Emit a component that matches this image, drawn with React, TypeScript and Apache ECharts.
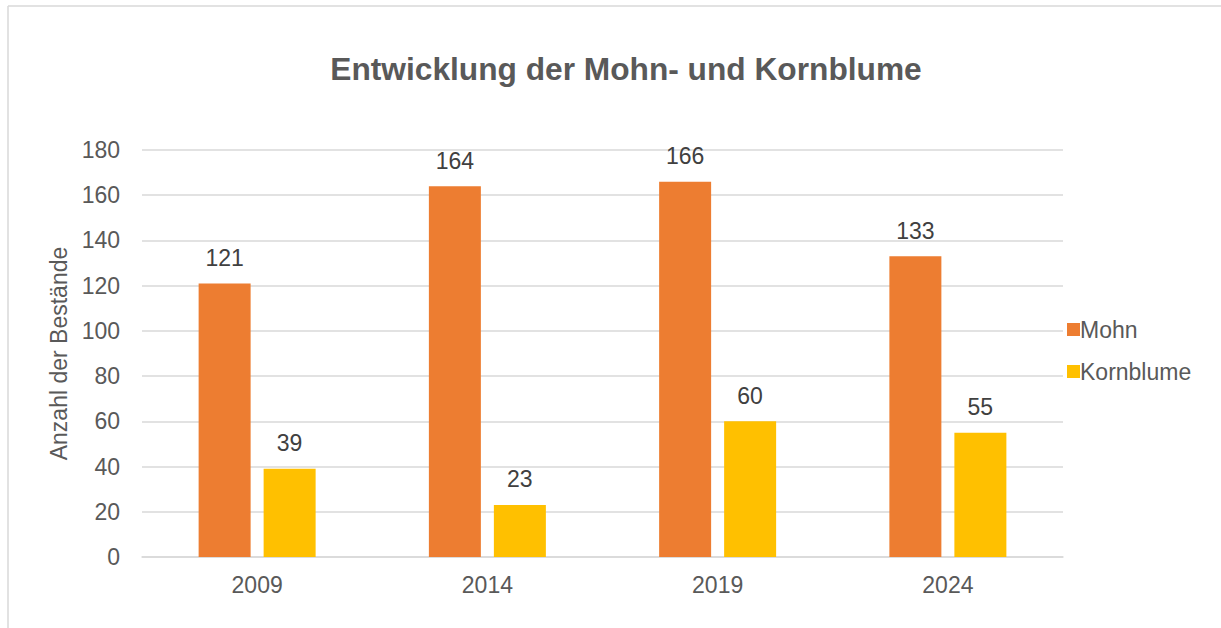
import React, { useEffect, useRef } from "react";
import * as echarts from "echarts";

const categories = ["2009", "2014", "2019", "2024"];
const mohn = [121, 164, 166, 133];
const kornblume = [39, 23, 60, 55];
const seriesNames = ["Mohn", "Kornblume"];

export default function App() {
  const ref = useRef<HTMLDivElement>(null);
  useEffect(() => {
    const chart = echarts.init(ref.current!, null, { renderer: "svg" });
    const font = "'Liberation Sans', Arial, sans-serif";
    const txt = "#595959";
    chart.setOption({
      animation: false,
      backgroundColor: "#ffffff",
      title: {
        text: "Entwicklung der Mohn- und Kornblume",
        left: 621,
        textAlign: "center",
        top: 48,
        textStyle: { fontFamily: font, fontSize: 31.7, fontWeight: "bold", color: txt },
      },
      graphic: [
        { type: "line", shape: { x1: 8, y1: 6, x2: 1221, y2: 6 }, style: { stroke: "#d9d9d9", lineWidth: 1.5 } },
        { type: "line", shape: { x1: 8, y1: 6, x2: 8, y2: 628 }, style: { stroke: "#d9d9d9", lineWidth: 1.5 } },
      ],
      legend: {
        orient: "vertical",
        left: 1062,
        top: 313,
        itemWidth: 13,
        itemHeight: 13,
        itemGap: 19,
        icon: "rect",
        data: seriesNames,
        textStyle: { fontFamily: font, fontSize: 23, color: txt, padding: [0, 0, 0, -5] },
      },
      grid: { left: 142, right: 158, top: 150, bottom: 71 },
      xAxis: {
        type: "category",
        data: categories,
        axisLine: { lineStyle: { color: "#d9d9d9", width: 1.5 } },
        axisTick: { show: false },
        axisLabel: { fontFamily: font, fontSize: 23, color: txt, margin: 16 },
      },
      yAxis: {
        type: "value",
        min: 0,
        max: 180,
        interval: 20,
        name: "Anzahl der Bestände",
        nameLocation: "middle",
        nameGap: 67,
        nameTextStyle: { fontFamily: font, fontSize: 23, color: txt },
        axisLine: { show: false },
        axisTick: { show: false },
        axisLabel: { fontFamily: font, fontSize: 23, color: txt, margin: 22 },
        splitLine: { lineStyle: { color: "#d9d9d9", width: 1.5 } },
      },
      series: [
        {
          name: seriesNames[0],
          type: "bar",
          data: mohn,
          barWidth: 52,
          barGap: "25%",
          itemStyle: { color: "#ed7d31" },
          label: { show: true, position: "top", distance: 14, fontFamily: font, fontSize: 23, color: "#404040" },
        },
        {
          name: seriesNames[1],
          type: "bar",
          data: kornblume,
          barWidth: 52,
          itemStyle: { color: "#ffc000" },
          label: { show: true, position: "top", distance: 14, fontFamily: font, fontSize: 23, color: "#404040" },
        },
      ],
    });
    return () => chart.dispose();
  }, []);
  return <div ref={ref} style={{ position: "absolute", left: 0, top: 0, width: 1221, height: 628 }} />;
}
